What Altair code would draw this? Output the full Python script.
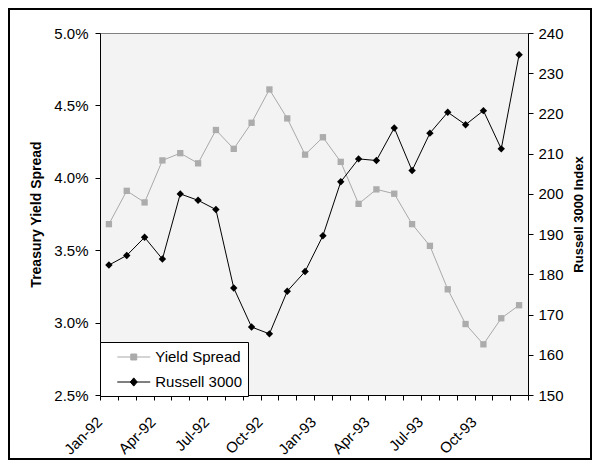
import json
import altair as alt
import pandas as pd

# ---- data ----
months = ["Jan-92", "Feb-92", "Mar-92", "Apr-92", "May-92", "Jun-92",
          "Jul-92", "Aug-92", "Sep-92", "Oct-92", "Nov-92", "Dec-92",
          "Jan-93", "Feb-93", "Mar-93", "Apr-93", "May-93", "Jun-93",
          "Jul-93", "Aug-93", "Sep-93", "Oct-93", "Nov-93", "Dec-93"]
yield_spread = [3.68, 3.91, 3.83, 4.12, 4.17, 4.10, 4.33, 4.20, 4.38, 4.61, 4.41, 4.16,
                4.28, 4.11, 3.82, 3.92, 3.89, 3.68, 3.53, 3.23, 2.99, 2.85, 3.03, 3.12]
russell_3000 = [182.3, 184.7, 189.2, 183.8, 200.0, 198.4, 196.1, 176.6, 166.9, 165.2, 175.8, 180.7,
                189.6, 203.0, 208.7, 208.3, 216.4, 205.8, 215.1, 220.3, 217.2, 220.7, 211.2, 234.6]
series_names = ["Yield Spread", "Russell 3000"]
left_ticks = [0.025, 0.030, 0.035, 0.040, 0.045, 0.050]
right_ticks = [150, 160, 170, 180, 190, 200, 210, 220, 230, 240]

GRAY_LINE = "#a9a9a9"
GRAY_PT = "#acacac"
FONT = "Liberation Sans"

n = len(months)
df = pd.DataFrame({
    "idx": [i + 0.5 for i in range(n)],
    "month": months,
    "spread": [v / 100 for v in yield_spread],
    "russell": russell_3000,
})
legend_df = pd.DataFrame({"series": series_names})

label_array = json.dumps(months)
x_enc = alt.X(
    "idx:Q",
    scale=alt.Scale(domain=[0, n], nice=False, zero=False),
    axis=alt.Axis(
        values=list(range(n + 1)),
        labelExpr=f"(datum.value % 3 == 0 && datum.value < {n}) ? {label_array}[datum.value] : ''",
        labelAngle=315, labelAlign="right", labelBaseline="middle",
        labelOffset=-1, labelPadding=19, labelFontSize=15,
        labelOverlap=False, labelFlush=False,
        title=None, grid=False, tickSize=5,
        domainColor="black", tickColor="black", labelColor="black",
    ),
)

y_left = alt.Y(
    "spread:Q",
    scale=alt.Scale(domain=[0.025, 0.05], nice=False, zero=False),
    axis=alt.Axis(values=left_ticks, format=".1%", title="Treasury Yield Spread",
                  titleFontSize=14, titleFontWeight="bold", titlePadding=10,
                  labelFontSize=15, labelPadding=7, tickSize=5, grid=False,
                  domainColor="black", tickColor="black", labelColor="black",
                  titleColor="black", orient="left"),
)
y_right = alt.Y(
    "russell:Q",
    scale=alt.Scale(domain=[150, 240], nice=False, zero=False),
    axis=alt.Axis(values=right_ticks, title="Russell 3000 Index",
                  titleFontSize=13, titleFontWeight="bold", titlePadding=9,
                  titleAngle=270, titleBaseline="top",
                  labelFontSize=15, labelPadding=5, tickSize=5, grid=False,
                  domainColor="black", tickColor="black", labelColor="black",
                  titleColor="black", orient="right"),
)

base = alt.Chart(df)

spread_line = base.mark_line(color=GRAY_LINE, strokeWidth=1).encode(x=x_enc, y=y_left)
spread_pts = base.mark_point(shape="square", filled=True, size=40, color=GRAY_PT,
                             opacity=1).encode(x=x_enc, y=y_left)

# legend-only layer (points drawn outside the clipped plot area)
sq_path = "M-2,0H2M-0.36,-0.36H0.36V0.36H-0.36Z"
dia_path = "M-2,0H2M0,-0.5L0.42,0L0,0.5L-0.42,0Z"
leg = alt.Legend(orient="none", legendX=0, legendY=309, title=None,
                 fillColor="white", strokeColor="black", padding=6, rowPadding=8,
                 symbolSize=272, symbolStrokeWidth=1, symbolOpacity=1,
                 symbolOffset=18.75, labelOffset=12.5, labelFontSize=15,
                 labelColor="black", labelFont=FONT, cornerRadius=0)
legend_layer = alt.Chart(legend_df).mark_point(filled=True, clip=True, size=272).encode(
    x=alt.value(-200), y=alt.value(-200),
    fill=alt.Fill("series:N", scale=alt.Scale(domain=series_names, range=[GRAY_PT, "#000000"]),
                  legend=leg),
    stroke=alt.Stroke("series:N", scale=alt.Scale(domain=series_names, range=[GRAY_LINE, "#000000"]),
                      legend=leg),
    shape=alt.Shape("series:N", scale=alt.Scale(domain=series_names, range=[sq_path, dia_path]),
                    legend=leg),
)

left_group = alt.layer(spread_line, spread_pts, legend_layer)

russell_line = base.mark_line(color="black", strokeWidth=1).encode(x=x_enc, y=y_right)
russell_pts = base.mark_point(shape="diamond", filled=True, size=55, color="black",
                              opacity=1).encode(x=x_enc, y=y_right)
right_group = alt.layer(russell_line, russell_pts)

frame = alt.Chart(pd.DataFrame({"f": [0]})).mark_rect(
    fillOpacity=0, stroke="black", strokeWidth=2, clip=False
).encode(x=alt.value(-91), x2=alt.value(491), y=alt.value(-24), y2=alt.value(426))

chart = alt.layer(frame, left_group, right_group).resolve_scale(
    y="independent"
).properties(
    width=428, height=362,
    autosize=alt.AutoSizeParams(type="none"),
    padding={"left": 92, "top": 25, "right": 64, "bottom": 65},
    background="white",
).configure(
    font=FONT
).configure_view(
    fill="#f3f3f3", stroke="#808080", strokeWidth=1
)

chart.save("out.html", embed_options={"renderer": "svg", "actions": False})
